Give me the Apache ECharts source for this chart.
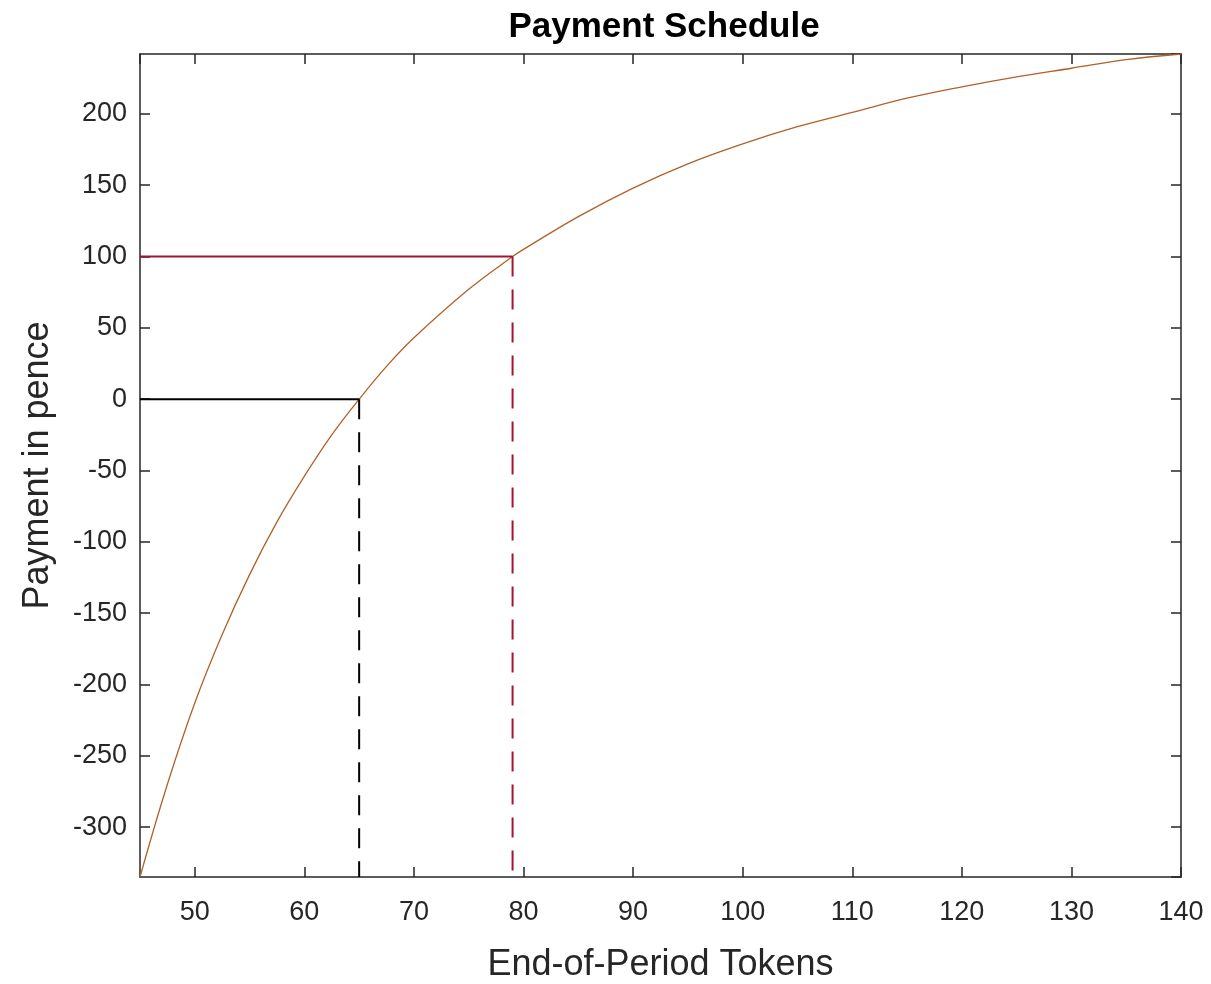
<!DOCTYPE html>
<html>
<head>
<meta charset="utf-8">
<script src="https://cdn.jsdelivr.net/npm/echarts@6/dist/echarts.min.js"></script>
<style>html,body{margin:0;padding:0;background:#fff}#c{width:1211px;height:984px}</style>
</head>
<body>
<div id="c"></div>
<script>
// Data
var tokens   = [45, 47.5, 50, 52.5, 55, 57.5, 60, 62.5, 65, 67.5, 70, 75, 79, 80, 85, 90, 95, 100, 105, 110, 115, 120, 125, 130, 135, 140];
var payments = [-335, -270, -213, -165, -123, -86, -54, -25, 0, 23, 43, 77, 100, 105, 128, 148, 165, 179, 191, 201, 211, 219, 226, 232, 238, 242];
var breakEven = [65, 0];     // tokens, payment
var target    = [79, 100];   // tokens, payment
var xMin = 45, xMax = 140, yMin = -335, yMax = 242;

var curve = tokens.map(function (t, i) { return [t, payments[i]]; });
var ink = '#262626';
var font = 'Liberation Sans, Arial, Helvetica, sans-serif';

function hideOff(step) {
  return function (v) { return (Math.abs(v % step) < 1e-9) ? String(v) : ''; };
}

var chart = echarts.init(document.getElementById('c'), null, {renderer: 'canvas'});
chart.setOption({
  animation: false,
  backgroundColor: '#ffffff',
  title: {
    text: 'Payment Schedule',
    left: 659, top: 5, textAlign: 'center',
    textStyle: {fontFamily: font, fontWeight: 'bold', fontSize: 35, color: '#000'}
  },
  grid: {left: 140, right: 30, top: 54, bottom: 107, containLabel: false, outerBoundsMode: 'none'},
  xAxis: [{
    type: 'value', min: xMin, max: xMax, splitNumber: 10,
    name: 'End-of-Period Tokens', nameLocation: 'middle', nameGap: 70,
    nameTextStyle: {fontFamily: font, fontSize: 36, color: ink},
    axisLine: {show: true, onZero: false, lineStyle: {color: ink, width: 1.5}},
    axisTick: {show: true, inside: true, length: 10, lineStyle: {color: ink, width: 1.5}},
    axisLabel: {fontFamily: font, fontSize: 27, color: ink, margin: 22, formatter: hideOff(10), showMinLabel: false},
    splitLine: {show: false}
  }, {
    type: 'value', position: 'top', min: xMin, max: xMax, splitNumber: 10,
    axisLine: {show: true, onZero: false, lineStyle: {color: ink, width: 1.5}},
    axisTick: {show: true, inside: true, length: 10, lineStyle: {color: ink, width: 1.5}},
    axisLabel: {show: false}, splitLine: {show: false}
  }],
  yAxis: [{
    type: 'value', min: yMin, max: yMax, splitNumber: 12,
    name: 'Payment in pence', nameLocation: 'middle', nameGap: 84,
    nameTextStyle: {fontFamily: font, fontSize: 36, color: ink},
    axisLine: {show: true, onZero: false, lineStyle: {color: ink, width: 1.5}},
    axisTick: {show: true, inside: true, length: 10, lineStyle: {color: ink, width: 1.5}},
    axisLabel: {fontFamily: font, fontSize: 27, color: ink, margin: 13, formatter: hideOff(50), showMinLabel: false, showMaxLabel: false},
    splitLine: {show: false}
  }, {
    type: 'value', position: 'right', min: yMin, max: yMax, splitNumber: 12,
    axisLine: {show: true, onZero: false, lineStyle: {color: ink, width: 1.5}},
    axisTick: {show: true, inside: true, length: 10, lineStyle: {color: ink, width: 1.5}},
    axisLabel: {show: false}, splitLine: {show: false}
  }],
  series: [{
    type: 'line', data: curve, smooth: 0.4, symbol: 'none',
    lineStyle: {color: '#b0612a', width: 1.3}, z: 3
  }, {
    type: 'line', data: [[xMin, target[1]], target], symbol: 'none',
    lineStyle: {color: '#a2142f', width: 2}
  }, {
    type: 'line', data: [target, [target[0], yMin]], symbol: 'none',
    lineStyle: {color: '#a2142f', width: 2, type: [20, 13]}
  }, {
    type: 'line', data: [[xMin, breakEven[1]], breakEven], symbol: 'none',
    lineStyle: {color: '#000000', width: 2}
  }, {
    type: 'line', data: [breakEven, [breakEven[0], yMin]], symbol: 'none',
    lineStyle: {color: '#000000', width: 2, type: [20, 13]}
  }]
});
</script>
</body>
</html>
